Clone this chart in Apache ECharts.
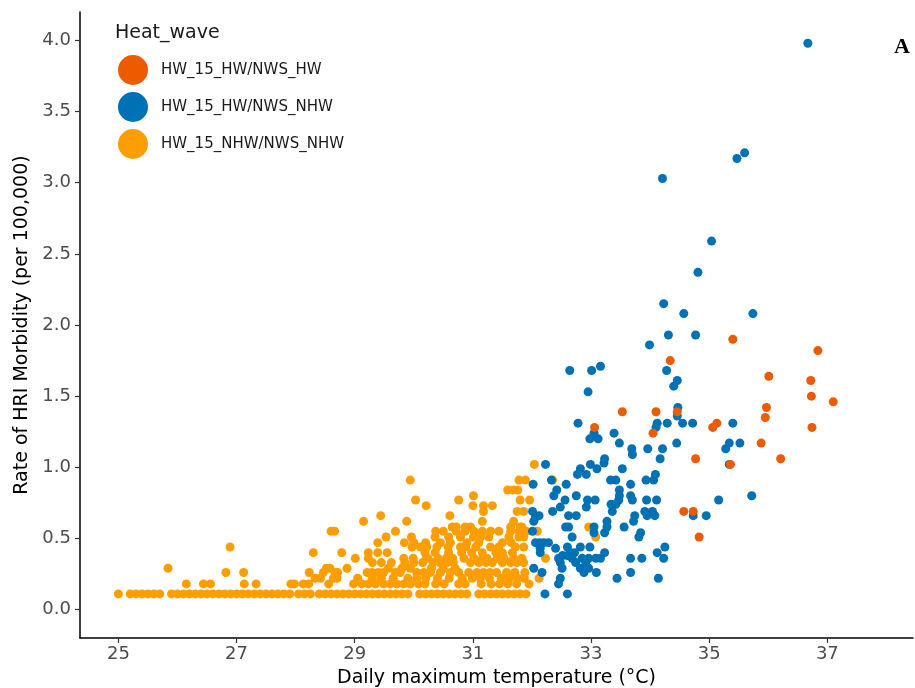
<!DOCTYPE html>
<html>
<head>
<meta charset="utf-8">
<script src="https://cdn.jsdelivr.net/npm/echarts@6/dist/echarts.min.js"></script>
<style>html,body{margin:0;padding:0;background:#fff;}#c{width:915px;height:688px;}</style>
</head>
<body>
<div id="c"></div>
<script>
const seriesNames = ["HW_15_HW/NWS_HW", "HW_15_HW/NWS_NHW", "HW_15_NHW/NWS_NHW"];
const xTicks = [25, 27, 29, 31, 33, 35, 37];
const yTicks = [0, 0.5, 1, 1.5, 2, 2.5, 3, 3.5, 4];

// HW_15_HW/NWS_HW
const hwHW = [[35.40,1.90],[36.84,1.82],[34.34,1.75],[36.01,1.64],[36.72,1.61],[36.73,1.50],[37.10,1.46],[35.97,1.42],[35.95,1.35],[33.53,1.39],[34.10,1.39],[34.46,1.39],[33.06,1.28],[35.13,1.31],[35.06,1.28],[36.74,1.28],[34.05,1.24],[35.88,1.17],[34.77,1.06],[36.21,1.06],[35.36,1.02],[34.57,0.69],[34.73,0.69],[34.83,0.51]];

// HW_15_HW/NWS_NHW
const hwNHW = [[36.67,3.98],[35.60,3.21],[35.47,3.17],[34.21,3.03],[35.04,2.59],[34.81,2.37],[34.23,2.15],[34.57,2.08],[35.74,2.08],[34.31,1.93],[34.77,1.93],
[33.99,1.86],[34.28,1.68],[34.46,1.61],[34.40,1.57],[32.64,1.68],[33.01,1.68],[33.16,1.71],[32.95,1.53],
[34.47,1.42],[34.46,1.36],[34.55,1.31],[34.72,1.31],[34.29,1.31],[34.12,1.31],[34.10,1.28],[35.40,1.31],[32.78,1.31],
[33.05,1.24],[32.98,1.20],[33.12,1.20],[33.39,1.24],[33.48,1.17],[33.69,1.13],[33.70,1.09],[33.96,1.13],[34.21,1.13],[34.45,1.17],[34.17,1.06],
[35.34,1.17],[35.28,1.13],[35.52,1.17],[35.34,1.02],[35.72,0.80],[35.16,0.77],[34.95,0.66],[34.73,0.66],
[32.23,1.02],[32.02,0.88],[32.33,0.91],[32.58,0.88],[32.42,0.84],[32.37,0.80],[32.75,0.80],
[32.82,0.99],[32.77,0.95],[32.92,0.95],[32.99,1.02],[33.10,0.99],[33.22,1.03],[33.23,1.06],[33.53,0.99],[33.33,0.91],[33.42,0.91],[33.67,0.88],[33.93,0.91],[34.06,0.91],[34.09,0.95],
[33.48,0.84],[33.48,0.80],[33.47,0.77],[33.42,0.74],[33.34,0.74],[33.36,0.69],[33.67,0.80],[33.70,0.77],[33.94,0.77],[34.11,0.77],[32.94,0.77],[33.07,0.77],[32.92,0.72],[32.56,0.77],[32.48,0.72],[32.35,0.69],
[32.01,0.69],[32.12,0.66],[32.03,0.62],[32.06,0.65],[32.62,0.66],[32.75,0.66],[32.57,0.58],[32.62,0.58],[32.68,0.51],[33.05,0.58],[33.05,0.54],[33.27,0.62],[33.27,0.58],[33.23,0.54],[33.56,0.58],
[33.74,0.66],[33.72,0.62],[33.84,0.54],[33.81,0.51],[33.91,0.69],[34.04,0.69],[33.95,0.66],[34.08,0.66],[32.01,0.55],
[32.06,0.47],[32.13,0.47],[32.20,0.47],[32.28,0.47],[32.14,0.43],[32.40,0.43],[32.60,0.44],[32.65,0.40],[32.82,0.44],[32.98,0.44],[32.14,0.40],
[32.45,0.36],[32.68,0.36],[32.85,0.36],[32.96,0.36],[33.08,0.36],[33.16,0.36],[33.23,0.40],[32.48,0.33],[32.74,0.33],[32.91,0.33],[32.51,0.29],[32.82,0.29],[32.96,0.29],[32.88,0.26],[33.09,0.26],[32.03,0.29],[32.17,0.26],[32.48,0.22],[32.45,0.18],
[33.67,0.36],[33.86,0.36],[33.67,0.26],[34.12,0.40],[34.25,0.44],[34.23,0.36],[33.44,0.22],[34.14,0.22],[32.22,0.11],[32.60,0.11],[32.52,0.38],[32.60,0.38],[32.72,0.40]];

// HW_15_NHW/NWS_NHW, grouped by rate level
const nhwX011 = [25.0,25.2,25.3,25.4,25.5,25.6,25.7,25.9,26.0,26.1,26.2,26.3,26.4,26.5,26.6,26.7,26.8,26.9,27.0,27.1,27.2,27.3,27.4,27.5,27.6,27.7,27.8,27.9,28.05,28.15,28.25,28.4,28.5,28.6,28.7,28.8,28.9,29.0,29.1,29.2,29.3,29.4,29.5,29.6,29.7,29.8,29.9,30.1,30.2,30.3,30.4,30.5,30.6,30.7,30.8,30.9,31.1,31.2,31.3,31.4,31.5,31.6,31.7,31.8,31.9];
const nhwX018 = [26.15,26.44,26.56,27.13,27.33,27.92,27.98,28.13,28.22,28.56,28.98,29.12,29.23,29.35,29.49,29.60,29.71,29.83,29.94,30.08,30.19,30.37,30.51,30.76,30.87,31.14,31.31,31.45,31.59,31.74,31.95];
const nhwX022 = [28.33,28.42,28.64,28.70,29.05,29.30,29.45,29.65,29.90,30.05,30.20,30.40,30.60,30.82,30.99,31.13,31.28,31.48,31.62,31.76,31.87,32.12];
const nhwX026 = [26.82,27.12,28.23,28.47,28.67,28.71,29.21,29.29,29.40,29.49,29.69,29.77,30.05,30.17,30.28,30.45,30.62,30.76,30.93,31.07,31.18,31.29,31.40,31.57,31.71,31.88];
const nhwX029 = [25.84,28.52,28.58,28.87,29.57,29.80,29.94,30.30,30.50,30.70];
const nhwX033 = [29.30,29.45,29.62,29.85,30.00,30.15,30.33,30.44,30.56,30.67,30.96,31.10,31.22,31.33,31.50,31.64,31.75,31.86];
const nhwX036 = [29.01,29.23,29.83,29.99,30.21,30.24,30.41,30.55,30.66,30.85,31.02,31.16,31.24,31.41,31.53,31.69,31.83,32.23];
const nhwX040 = [28.30,28.78,29.23,29.39,29.55,30.19,30.36,30.59,30.81,30.98,31.16,31.39,31.50,31.67];
const nhwX044 = [26.89,29.97,30.11,30.22,30.39,30.58,30.79,30.88,31.05,31.30,31.44,31.72,31.86];
const nhwX047 = [29.39,29.84,30.00,30.20,30.45,30.62,30.90,31.10,31.50,31.65];
const nhwX051 = [29.53,29.96,30.36,30.59,30.79,31.01,31.13,31.27,31.61,31.78,31.86,33.08];
const nhwX055 = [28.60,28.66,29.69,30.37,30.50,30.72,30.87,31.02,31.16,31.30,31.44,31.64,31.78,31.90,32.09];
const nhwX058 = [30.65,30.72,30.87,30.96,31.64,31.80,31.83,32.96];
const nhwX062 = [29.15,29.88,31.16,31.69];
const nhwX066 = [29.44,30.61];
const nhwX069 = [31.18,31.75,31.86];
const nhwX073 = [30.21,31.00,31.18,31.33];
const nhwX077 = [30.03,30.76,31.80,31.96];
const nhwX080 = [31.01];
const nhwX084 = [31.59,31.68,31.76];
const nhwX091 = [29.94,31.78,31.89,32.35];
const nhwX102 = [32.04];
const nhwLevels = [
  [0.11, nhwX011],[0.18, nhwX018],[0.22, nhwX022],[0.26, nhwX026],[0.29, nhwX029],[0.33, nhwX033],
  [0.36, nhwX036],[0.40, nhwX040],[0.44, nhwX044],[0.47, nhwX047],[0.51, nhwX051],[0.55, nhwX055],
  [0.58, nhwX058],[0.62, nhwX062],[0.66, nhwX066],[0.69, nhwX069],[0.73, nhwX073],[0.77, nhwX077],
  [0.80, nhwX080],[0.84, nhwX084],[0.91, nhwX091],[1.02, nhwX102]
];
const nhwNHW = [];
nhwLevels.forEach(([y, xs]) => xs.forEach(x => nhwNHW.push([x, y])));

const colors = {"HW_15_HW/NWS_HW": "#EE5A00", "HW_15_HW/NWS_NHW": "#0071B4", "HW_15_NHW/NWS_NHW": "#FD9E00"};
const FONT = "DejaVu Sans";

const chart = echarts.init(document.getElementById('c'), null, {renderer: 'canvas'});
chart.setOption({
  animation: false,
  backgroundColor: '#ffffff',
  textStyle: {fontFamily: FONT},
  title: {
    text: 'Heat_wave', left: 110, top: 19,
    textStyle: {fontFamily: FONT, fontSize: 19, fontWeight: 'normal', color: '#1a1a1a'}
  },
  legend: {
    data: seriesNames,
    orient: 'vertical', left: 113, top: 50,
    icon: 'circle', itemWidth: 30, itemHeight: 30, itemGap: 7,
    textStyle: {fontFamily: FONT, fontSize: 15, color: '#1a1a1a', padding: [0, 0, 0, 8]},
    selectedMode: false
  },
  graphic: [{
    type: 'text', right: 5, top: 36,
    style: {text: 'A', font: 'bold 22px "Liberation Serif", "DejaVu Serif", serif', fill: '#000'}
  }],
  grid: {left: 80, right: 2, top: 12, bottom: 50, containLabel: false, outerBoundsMode: 'none'},
  xAxis: {
    type: 'value', min: 24.35, max: 38.45,
    name: 'Daily maximum temperature (°C)', nameLocation: 'middle', nameGap: 31,
    nameTextStyle: {fontFamily: FONT, fontSize: 19, color: '#000'},
    axisLine: {show: true, onZero: false, lineStyle: {color: '#000', width: 1.5}},
    axisTick: {show: true, length: 5, customValues: xTicks, lineStyle: {color: '#333', width: 1.2}},
    axisLabel: {customValues: xTicks, fontFamily: FONT, fontSize: 18, color: '#4d4d4d', margin: 7},
    splitLine: {show: false}
  },
  yAxis: {
    type: 'value', min: -0.2, max: 4.2,
    name: 'Rate of HRI Morbidity (per 100,000)', nameLocation: 'middle', nameGap: 43, nameRotate: 90,
    nameTextStyle: {fontFamily: FONT, fontSize: 19, color: '#000'},
    axisLine: {show: true, onZero: false, lineStyle: {color: '#000', width: 1.5}},
    axisTick: {show: true, length: 5, customValues: yTicks, lineStyle: {color: '#333', width: 1.2}},
    axisLabel: {customValues: yTicks, fontFamily: FONT, fontSize: 18, color: '#4d4d4d', margin: 9,
      formatter: v => v.toFixed(1)},
    splitLine: {show: false}
  },
  series: [
    {name: seriesNames[2], type: 'scatter', data: nhwNHW, symbolSize: 9, itemStyle: {color: colors[seriesNames[2]], opacity: 1}, z: 2},
    {name: seriesNames[1], type: 'scatter', data: hwNHW, symbolSize: 9, itemStyle: {color: colors[seriesNames[1]], opacity: 1}, z: 3},
    {name: seriesNames[0], type: 'scatter', data: hwHW, symbolSize: 9, itemStyle: {color: colors[seriesNames[0]], opacity: 1}, z: 4}
  ]
});
</script>
</body>
</html>
